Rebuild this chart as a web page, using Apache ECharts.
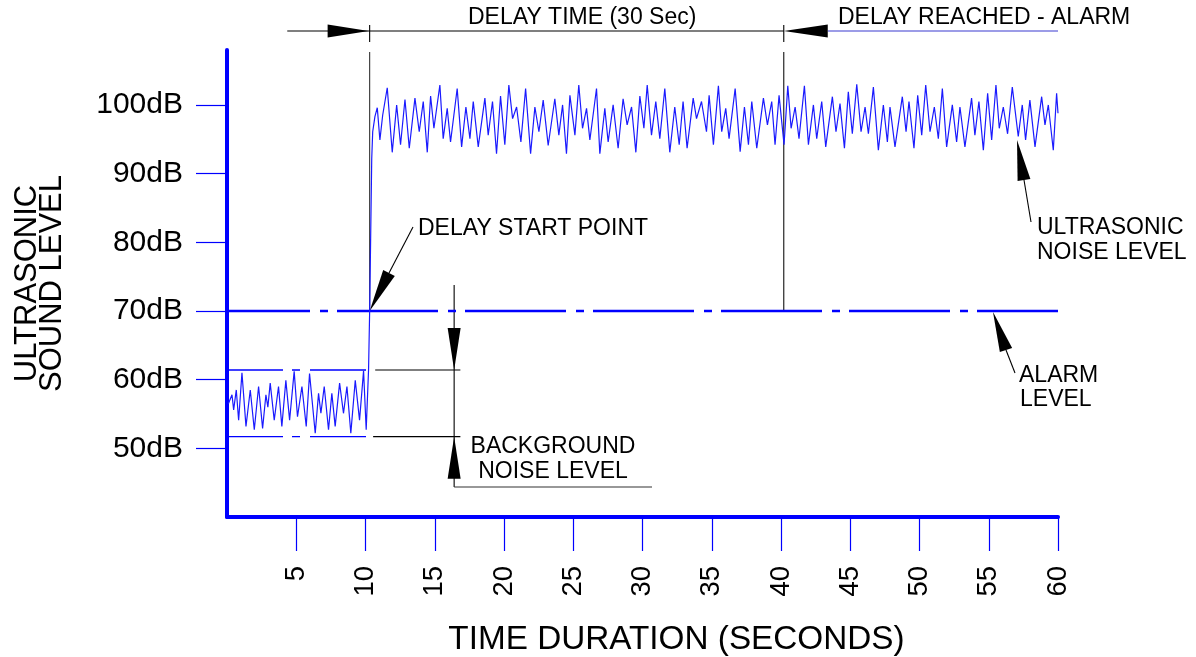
<!DOCTYPE html>
<html><head><meta charset="utf-8">
<script src="https://cdn.jsdelivr.net/npm/echarts@6/dist/echarts.min.js"></script>
<style>html,body{margin:0;padding:0;background:#fff}#c{width:1196px;height:657px}</style>
</head><body><div id="c"></div>
<script>
// ---- data ----
const xTickValues = [5, 10, 15, 20, 25, 30, 35, 40, 45, 50, 55, 60];
const yTickValues = [50, 60, 70, 80, 90, 100];
const alarmLevel = 70;
const bgNoiseTop = 61.4;
const bgNoiseBottom = 51.7;
const bgNoiseEnd = 10.05;
const delayStart = 10.3;
const delayEnd = 40.2;
const bgDimensionTime = 16.4;

const backgroundNoise = [
  [0.10,56.5],[0.36,57.8],[0.48,55.6],[0.67,58.5],[0.84,54.1],[1.08,61.0],[1.37,53.2],[1.68,58.5],
  [1.97,52.7],[2.28,59.0],[2.57,52.9],[2.81,57.8],[2.95,56.0],[3.12,59.5],[3.41,54.1],[3.72,59.0],
  [3.96,53.2],[4.25,59.9],[4.52,54.1],[4.85,61.2],[5.09,54.6],[5.41,59.0],[5.72,53.2],[5.96,60.9],
  [6.37,52.2],[6.61,58.0],[6.78,55.1],[7.02,59.0],[7.33,52.7],[7.57,58.0],[7.81,53.2],[8.13,59.5],
  [8.41,55.1],[8.66,59.0],[8.94,52.2],[9.26,59.9],[9.57,54.1],[9.86,61.3],[10.05,52.7]
];
const riseEdge = [[10.22,61.4],[10.30,70.0],[10.45,92.2],[10.52,96.1]];
const ultrasonicNoise = [
  [10.68,98.3],[10.85,99.6],[11.04,94.9],[11.24,98.5],[11.57,102.5],[11.93,93.1],[12.25,100.0],[12.53,94.2],
  [12.85,100.8],[13.16,93.7],[13.57,101.0],[13.88,96.1],[14.17,100.5],[14.46,93.1],[14.70,101.3],[14.94,96.6],
  [15.37,102.9],[15.61,95.1],[15.90,99.5],[16.14,94.6],[16.62,102.4],[16.94,93.9],[17.25,99.7],[17.54,95.1],
  [17.78,100.5],[18.14,93.9],[18.62,101.0],[18.86,95.6],[19.17,100.5],[19.46,92.9],[19.75,101.3],[20.06,94.2],
  [20.35,102.9],[20.62,98.0],[20.91,99.7],[21.22,94.6],[21.56,102.4],[21.92,92.9],[22.23,99.7],[22.52,96.1],
  [22.83,100.7],[23.19,94.1],[23.67,100.9],[23.96,95.6],[24.23,100.0],[24.51,92.9],[24.76,101.4],[25.12,95.6],
  [25.40,102.9],[25.67,96.6],[25.96,99.5],[26.20,94.9],[26.68,102.4],[26.92,92.9],[27.28,99.5],[27.52,94.6],
  [27.88,100.0],[28.24,93.7],[28.60,100.9],[28.89,97.1],[29.21,99.7],[29.52,93.1],[29.81,101.3],[30.10,96.6],
  [30.34,102.9],[30.65,95.6],[30.96,100.5],[31.25,95.1],[31.61,102.4],[31.97,93.1],[32.33,99.7],[32.65,94.2],
  [32.93,100.5],[33.22,93.7],[33.66,101.0],[33.90,98.0],[34.26,100.5],[34.62,96.1],[34.81,101.4],[35.12,94.2],
  [35.48,102.8],[35.72,96.1],[36.01,99.5],[36.25,95.1],[36.69,102.4],[37.05,93.2],[37.36,99.7],[37.65,94.2],
  [37.89,100.5],[38.25,93.7],[38.73,101.0],[39.02,97.1],[39.33,100.5],[39.57,94.2],[39.86,101.4],[40.22,94.2],
  [40.49,102.8],[40.73,96.6],[41.02,99.7],[41.30,95.1],[41.69,102.8],[41.98,94.2],[42.34,100.0],[42.58,95.1],
  [42.94,100.5],[43.23,93.9],[43.71,101.2],[43.97,96.1],[44.26,100.2],[44.58,93.7],[44.86,101.9],[45.15,95.8],
  [45.47,103.0],[45.78,96.1],[46.07,99.7],[46.31,95.8],[46.67,102.6],[47.03,93.4],[47.39,100.0],[47.68,94.6],
  [47.87,99.7],[48.23,93.9],[48.76,101.2],[49.03,96.1],[49.24,100.5],[49.60,93.7],[49.87,101.4],[50.16,95.6],
  [50.45,102.9],[50.76,96.1],[51.07,99.7],[51.36,95.1],[51.65,102.4],[51.96,93.9],[52.37,100.0],[52.68,94.6],
  [52.92,99.7],[53.28,93.9],[53.76,101.0],[54.00,95.6],[54.29,100.5],[54.61,93.4],[54.92,101.7],[55.21,94.9],
  [55.52,102.9],[55.76,96.6],[56.05,99.7],[56.36,95.8],[56.70,102.6],[57.13,95.4],[57.42,100.0],[57.66,94.9],
  [57.97,100.7],[58.34,93.9],[58.82,101.2],[59.06,97.1],[59.30,100.0],[59.66,93.4],[59.90,101.7],[60.00,98.8]
];

// ---- chart ----
const FONT = '"Liberation Sans", Arial, sans-serif';
const BLUE = '#0000ff';
const chart = echarts.init(document.getElementById('c'), null, {renderer: 'canvas'});
const signal = backgroundNoise.concat(riseEdge, ultrasonicNoise);

chart.setOption({
  animation: false,
  backgroundColor: '#fff',
  grid: {left: 227, right: 138, top: 50, bottom: 140, containLabel: false, outerBoundsMode: 'none'},
  xAxis: {
    type: 'value', min: 0, max: 60, interval: 5,
    axisLine: {show: true, lineStyle: {color: BLUE, width: 4}},
    axisTick: {show: true, customValues: xTickValues, length: 34, lineStyle: {color: BLUE, width: 1.2}},
    axisLabel: {customValues: xTickValues, rotate: 90, margin: 49, color: '#000', fontSize: 27.5, fontFamily: FONT},
    splitLine: {show: false},
    name: 'TIME DURATION (SECONDS)', nameLocation: 'middle', nameGap: 106,
    nameTextStyle: {color: '#000', fontSize: 33.3, fontFamily: FONT, padding: [0, 0, 0, 68]}
  },
  yAxis: {
    type: 'value', min: 40, max: 108, interval: 10,
    axisLine: {show: true, lineStyle: {color: BLUE, width: 4}},
    axisTick: {show: true, customValues: yTickValues, length: 31, lineStyle: {color: BLUE, width: 1.2}},
    axisLabel: {customValues: yTickValues, formatter: '{value}dB', margin: 44, color: '#000', fontSize: 30, fontFamily: FONT},
    splitLine: {show: false},
    name: 'ULTRASONIC\nSOUND LEVEL', nameLocation: 'middle', nameRotate: 90, nameGap: 162,
    nameTextStyle: {color: '#000', fontSize: 31, lineHeight: 25, fontFamily: FONT}
  },
  series: [
    {
      name: 'alarm', type: 'line', symbol: 'none', silent: true,
      data: [[0, alarmLevel], [60, alarmLevel]],
      lineStyle: {color: BLUE, width: 2.6, type: [101, 10, 8, 9], dashOffset: 18}
    },
    {
      name: 'bgTop', type: 'line', symbol: 'none', silent: true,
      data: [[0, bgNoiseTop], [bgNoiseEnd, bgNoiseTop]],
      lineStyle: {color: BLUE, width: 1.4, type: [56, 9, 8, 10], dashOffset: 0}
    },
    {
      name: 'bgBottom', type: 'line', symbol: 'none', silent: true,
      data: [[0, bgNoiseBottom], [bgNoiseEnd, bgNoiseBottom]],
      lineStyle: {color: BLUE, width: 1.4, type: [56, 9, 8, 10], dashOffset: 0}
    },
    {
      name: 'signal', type: 'line', symbol: 'none', silent: true,
      data: signal,
      lineStyle: {color: '#1a1aff', width: 1.2}
    }
  ]
});

// ---- annotations (anchored to data coordinates) ----
const P = (t, v) => chart.convertToPixel({gridIndex: 0}, [t, v]);
const xs = t => P(t, alarmLevel)[0];
const ys = v => P(0, v)[1];
const g = [];
function line(x1, y1, x2, y2, color, w) {
  g.push({type: 'line', silent: true, shape: {x1, y1, x2, y2}, style: {stroke: color || '#000', lineWidth: w || 1.1}});
}
function arrow(tx, ty, bx, by, hw) {
  const dx = tx - bx, dy = ty - by, L = Math.hypot(dx, dy);
  const nx = -dy / L * hw, ny = dx / L * hw;
  g.push({type: 'polygon', silent: true, shape: {points: [[tx, ty], [bx + nx, by + ny], [bx - nx, by - ny]]}, style: {fill: '#000'}});
}
function text(s, x, y, align) {
  g.push({type: 'text', silent: true, style: {text: s, x, y, font: '23px ' + FONT, fill: '#000',
    textAlign: align || 'left', textVerticalAlign: 'middle', align: align || 'left', verticalAlign: 'middle'}});
}

const dimY = 31;
const xS = xs(delayStart), xE = xs(delayEnd), yAl = ys(alarmLevel);
// top dimension
line(xs(4.35), dimY, xE, dimY, '#000', 1.1);
line(xE + 44, dimY, xs(60), dimY, '#3a3ad0', 1.1);
arrow(xS - 1, dimY, xS - 42, dimY, 6.5);
arrow(xE, dimY, xE + 44, dimY, 6.5);
line(xS, 25, xS, 42); line(xS, 52, xS, yAl, '#333', 1.1);
line(xE, 25, xE, 42); line(xE, 52, xE, yAl, '#111', 1.1);
text('DELAY TIME (30 Sec)', 468, 18);
text('DELAY REACHED - ALARM', 838, 18);

// delay start point callout
const ds = P(delayStart, alarmLevel);
line(413, 227, 389, 273);
arrow(ds[0], ds[1], 389, 273, 6.5);
text('DELAY START POINT', 418, 229);

// background noise dimension
const xD = xs(bgDimensionTime), yT = ys(bgNoiseTop), yB = ys(bgNoiseBottom);
line(xs(10.7), yT, xs(16.85), yT);
line(xs(10.55), yB, xs(16.85), yB);
line(xD, 285, xD, 487);
arrow(xD, yT, xD, yT - 42, 6.5);
arrow(xD, yB, xD, yB + 42, 6.5);
line(xD, 487, 652, 487, '#333', 1.2);
text('BACKGROUND', 553, 447, 'center');
text('NOISE LEVEL', 553, 472, 'center');

// ultrasonic noise callout
line(1031, 222, 1024, 180);
arrow(1017, 140, 1024, 180, 6.5);
text('ULTRASONIC', 1037, 228);
text('NOISE LEVEL', 1037, 253);

// alarm level callout
line(1015, 373, 1006, 350);
arrow(993, yAl + 1, 1006, 350, 6.5);
text('ALARM', 1019, 376);
text('LEVEL', 1020, 400);

chart.setOption({graphic: {elements: g}});
</script>
</body></html>
